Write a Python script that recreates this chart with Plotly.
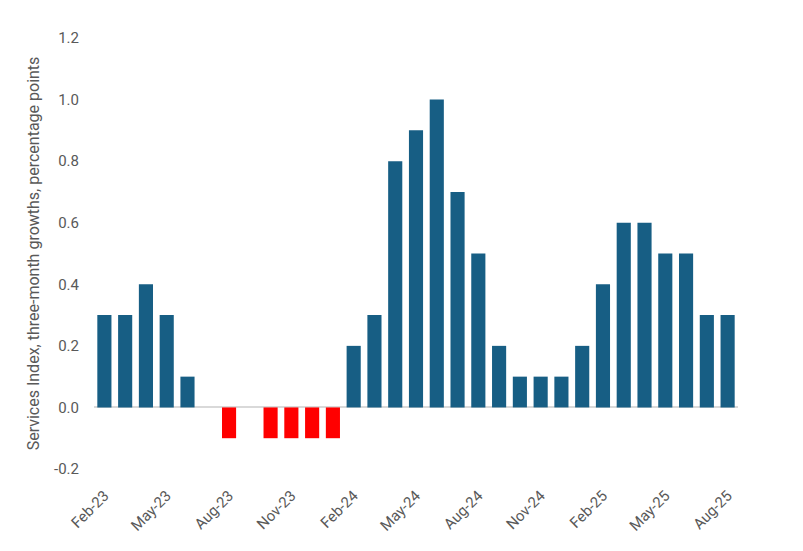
import plotly.graph_objects as go

months = ["Feb-23", "Mar-23", "Apr-23", "May-23", "Jun-23", "Jul-23", "Aug-23", "Sep-23",
          "Oct-23", "Nov-23", "Dec-23", "Jan-24", "Feb-24", "Mar-24", "Apr-24", "May-24",
          "Jun-24", "Jul-24", "Aug-24", "Sep-24", "Oct-24", "Nov-24", "Dec-24", "Jan-25",
          "Feb-25", "Mar-25", "Apr-25", "May-25", "Jun-25", "Jul-25", "Aug-25"]
values = [0.3, 0.3, 0.4, 0.3, 0.1, 0.0, -0.1, 0.0,
          -0.1, -0.1, -0.1, -0.1, 0.2, 0.3, 0.8, 0.9,
          1.0, 0.7, 0.5, 0.2, 0.1, 0.1, 0.1, 0.2,
          0.4, 0.6, 0.6, 0.5, 0.5, 0.3, 0.3]
tick_labels = months[::3]
y_ticks = [-0.2, 0.0, 0.2, 0.4, 0.6, 0.8, 1.0, 1.2]

colors = ["#FF0000" if v < 0 else "#175E84" for v in values]

fig = go.Figure(go.Bar(x=months, y=values, marker=dict(color=colors, line=dict(width=0))))

fig.update_layout(
    width=803, height=551,
    margin=dict(l=86, r=73, t=30, b=90),
    plot_bgcolor="white", paper_bgcolor="white",
    bargap=0.32,
    showlegend=False,
    font=dict(family="Roboto, Open Sans, sans-serif", color="#595959", size=14),
)
fig.update_xaxes(
    type="category", tickmode="array", tickvals=tick_labels, ticktext=tick_labels,
    tickangle=-45, showgrid=False, showline=False, ticks="", zeroline=False,
    tickfont=dict(size=15, color="#595959"), automargin=False, ticklabelstandoff=14,
)
fig.update_yaxes(
    range=[-0.2, 1.2], tickvals=y_ticks, ticktext=[f"{t:.1f}" for t in y_ticks],
    showgrid=False, zeroline=True, zerolinecolor="#D9D9D9", zerolinewidth=1.5,
    showline=False, ticks="", ticklen=0, automargin=False, ticklabelstandoff=14,
    title=dict(text="Services Index, three-month growths, percentage points",
               font=dict(size=16, color="#595959"), standoff=10),
    tickfont=dict(size=15, color="#595959"),
)

fig.write_html("out.html")
